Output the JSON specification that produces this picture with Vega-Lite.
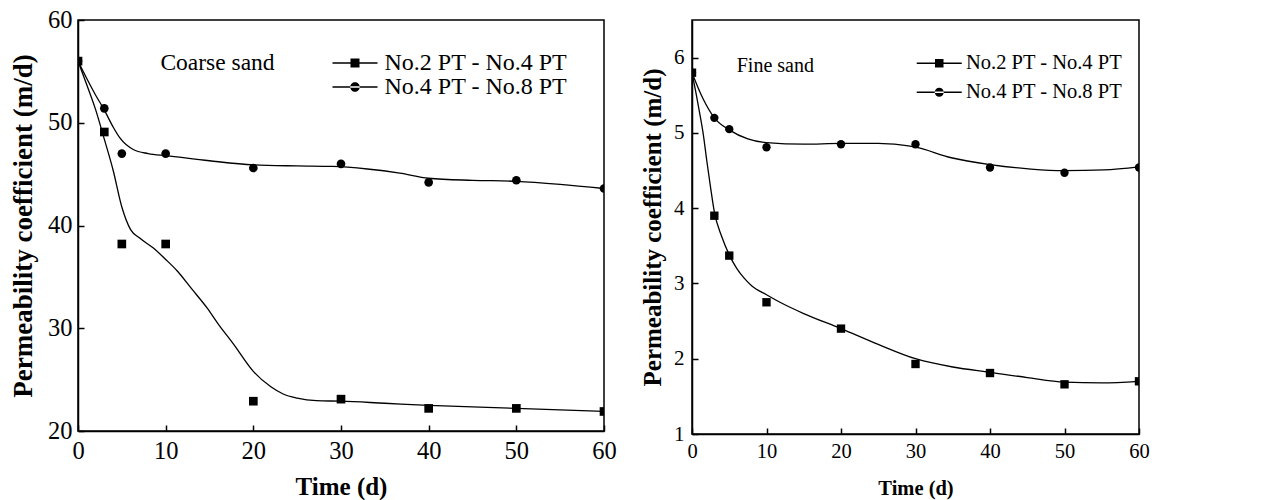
{
  "$schema": "https://vega.github.io/schema/vega-lite/v6.json",
  "background": "white",
  "padding": {"left": 8, "top": 6, "right": 0, "bottom": 0},
  "spacing": 22,
  "config": {
    "font": "Liberation Serif",
    "view": {"stroke": "black", "strokeWidth": 1.5},
    "axis": {
      "grid": false,
      "labelFont": "Liberation Serif",
      "titleFont": "Liberation Serif",
      "titleFontWeight": "bold",
      "labelColor": "black",
      "titleColor": "black",
      "domainColor": "black",
      "domainWidth": 1.5,
      "tickColor": "black",
      "tickWidth": 1.5,
      "tickSize": -6,
      "labelFlush": false,
      "labelOverlap": false
    },
    "legend": {"labelFont": "Liberation Serif", "labelColor": "black", "padding": 0, "labelLimit": 0}
  },
  "datasets": {
    "coarse_obs": [
      {"series": "No.2 PT - No.4 PT", "day": 0, "k": 56.0},
      {"series": "No.2 PT - No.4 PT", "day": 3, "k": 49.1},
      {"series": "No.2 PT - No.4 PT", "day": 5, "k": 38.2},
      {"series": "No.2 PT - No.4 PT", "day": 10, "k": 38.2},
      {"series": "No.2 PT - No.4 PT", "day": 20, "k": 22.9},
      {"series": "No.2 PT - No.4 PT", "day": 30, "k": 23.1},
      {"series": "No.2 PT - No.4 PT", "day": 40, "k": 22.2},
      {"series": "No.2 PT - No.4 PT", "day": 50, "k": 22.2},
      {"series": "No.2 PT - No.4 PT", "day": 60, "k": 21.9},
      {"series": "No.4 PT - No.8 PT", "day": 0, "k": 56.0},
      {"series": "No.4 PT - No.8 PT", "day": 3, "k": 51.4},
      {"series": "No.4 PT - No.8 PT", "day": 5, "k": 47.0},
      {"series": "No.4 PT - No.8 PT", "day": 10, "k": 47.0},
      {"series": "No.4 PT - No.8 PT", "day": 20, "k": 45.6},
      {"series": "No.4 PT - No.8 PT", "day": 30, "k": 46.0},
      {"series": "No.4 PT - No.8 PT", "day": 40, "k": 44.2},
      {"series": "No.4 PT - No.8 PT", "day": 50, "k": 44.4},
      {"series": "No.4 PT - No.8 PT", "day": 60, "k": 43.6}
    ],
    "coarse_fit": [
      {"series": "No.2 PT - No.4 PT", "day": 0, "k": 56.0},
      {"series": "No.2 PT - No.4 PT", "day": 1, "k": 53.7},
      {"series": "No.2 PT - No.4 PT", "day": 2, "k": 51.3},
      {"series": "No.2 PT - No.4 PT", "day": 3, "k": 48.4},
      {"series": "No.2 PT - No.4 PT", "day": 4, "k": 45.4},
      {"series": "No.2 PT - No.4 PT", "day": 5, "k": 41.8},
      {"series": "No.2 PT - No.4 PT", "day": 6, "k": 39.6},
      {"series": "No.2 PT - No.4 PT", "day": 7, "k": 38.8},
      {"series": "No.2 PT - No.4 PT", "day": 8.6, "k": 37.8},
      {"series": "No.2 PT - No.4 PT", "day": 10, "k": 36.7},
      {"series": "No.2 PT - No.4 PT", "day": 11.3, "k": 35.6},
      {"series": "No.2 PT - No.4 PT", "day": 13, "k": 33.8},
      {"series": "No.2 PT - No.4 PT", "day": 14.7, "k": 32.0},
      {"series": "No.2 PT - No.4 PT", "day": 16, "k": 30.4},
      {"series": "No.2 PT - No.4 PT", "day": 17.7, "k": 28.5},
      {"series": "No.2 PT - No.4 PT", "day": 20, "k": 25.8},
      {"series": "No.2 PT - No.4 PT", "day": 22, "k": 24.3},
      {"series": "No.2 PT - No.4 PT", "day": 23.4, "k": 23.6},
      {"series": "No.2 PT - No.4 PT", "day": 25, "k": 23.2},
      {"series": "No.2 PT - No.4 PT", "day": 27.2, "k": 22.95},
      {"series": "No.2 PT - No.4 PT", "day": 30, "k": 22.9},
      {"series": "No.2 PT - No.4 PT", "day": 35, "k": 22.7},
      {"series": "No.2 PT - No.4 PT", "day": 40, "k": 22.5},
      {"series": "No.2 PT - No.4 PT", "day": 50, "k": 22.2},
      {"series": "No.2 PT - No.4 PT", "day": 60, "k": 21.9},
      {"series": "No.4 PT - No.8 PT", "day": 0, "k": 56.0},
      {"series": "No.4 PT - No.8 PT", "day": 1, "k": 54.3},
      {"series": "No.4 PT - No.8 PT", "day": 2, "k": 52.7},
      {"series": "No.4 PT - No.8 PT", "day": 2.9, "k": 51.4},
      {"series": "No.4 PT - No.8 PT", "day": 4, "k": 49.6},
      {"series": "No.4 PT - No.8 PT", "day": 4.8, "k": 48.5},
      {"series": "No.4 PT - No.8 PT", "day": 6.3, "k": 47.4},
      {"series": "No.4 PT - No.8 PT", "day": 8, "k": 47.0},
      {"series": "No.4 PT - No.8 PT", "day": 10.1, "k": 46.8},
      {"series": "No.4 PT - No.8 PT", "day": 15, "k": 46.3},
      {"series": "No.4 PT - No.8 PT", "day": 20, "k": 45.9},
      {"series": "No.4 PT - No.8 PT", "day": 25, "k": 45.8},
      {"series": "No.4 PT - No.8 PT", "day": 29, "k": 45.75},
      {"series": "No.4 PT - No.8 PT", "day": 33, "k": 45.5},
      {"series": "No.4 PT - No.8 PT", "day": 36.7, "k": 45.1},
      {"series": "No.4 PT - No.8 PT", "day": 40, "k": 44.6},
      {"series": "No.4 PT - No.8 PT", "day": 45, "k": 44.4},
      {"series": "No.4 PT - No.8 PT", "day": 50, "k": 44.3},
      {"series": "No.4 PT - No.8 PT", "day": 55, "k": 44.0},
      {"series": "No.4 PT - No.8 PT", "day": 60, "k": 43.6}
    ],
    "fine_obs": [
      {"series": "No.2 PT - No.4 PT", "day": 0, "k": 5.8},
      {"series": "No.2 PT - No.4 PT", "day": 3, "k": 3.9},
      {"series": "No.2 PT - No.4 PT", "day": 5, "k": 3.37},
      {"series": "No.2 PT - No.4 PT", "day": 10, "k": 2.75},
      {"series": "No.2 PT - No.4 PT", "day": 20, "k": 2.4},
      {"series": "No.2 PT - No.4 PT", "day": 30, "k": 1.93},
      {"series": "No.2 PT - No.4 PT", "day": 40, "k": 1.81},
      {"series": "No.2 PT - No.4 PT", "day": 50, "k": 1.66},
      {"series": "No.2 PT - No.4 PT", "day": 60, "k": 1.7},
      {"series": "No.4 PT - No.8 PT", "day": 0, "k": 5.8},
      {"series": "No.4 PT - No.8 PT", "day": 3, "k": 5.2},
      {"series": "No.4 PT - No.8 PT", "day": 5, "k": 5.05},
      {"series": "No.4 PT - No.8 PT", "day": 10, "k": 4.81},
      {"series": "No.4 PT - No.8 PT", "day": 20, "k": 4.85},
      {"series": "No.4 PT - No.8 PT", "day": 30, "k": 4.85},
      {"series": "No.4 PT - No.8 PT", "day": 40, "k": 4.54},
      {"series": "No.4 PT - No.8 PT", "day": 50, "k": 4.47},
      {"series": "No.4 PT - No.8 PT", "day": 60, "k": 4.54}
    ],
    "fine_fit": [
      {"series": "No.2 PT - No.4 PT", "day": 0, "k": 5.8},
      {"series": "No.2 PT - No.4 PT", "day": 0.5, "k": 5.55},
      {"series": "No.2 PT - No.4 PT", "day": 1, "k": 5.28},
      {"series": "No.2 PT - No.4 PT", "day": 1.5, "k": 4.99},
      {"series": "No.2 PT - No.4 PT", "day": 2, "k": 4.62},
      {"series": "No.2 PT - No.4 PT", "day": 2.5, "k": 4.27},
      {"series": "No.2 PT - No.4 PT", "day": 3, "k": 3.95},
      {"series": "No.2 PT - No.4 PT", "day": 4, "k": 3.62},
      {"series": "No.2 PT - No.4 PT", "day": 5, "k": 3.38},
      {"series": "No.2 PT - No.4 PT", "day": 6, "k": 3.2},
      {"series": "No.2 PT - No.4 PT", "day": 7, "k": 3.07},
      {"series": "No.2 PT - No.4 PT", "day": 8, "k": 2.97},
      {"series": "No.2 PT - No.4 PT", "day": 10, "k": 2.85},
      {"series": "No.2 PT - No.4 PT", "day": 12, "k": 2.74},
      {"series": "No.2 PT - No.4 PT", "day": 15, "k": 2.6},
      {"series": "No.2 PT - No.4 PT", "day": 20, "k": 2.4},
      {"series": "No.2 PT - No.4 PT", "day": 25, "k": 2.19},
      {"series": "No.2 PT - No.4 PT", "day": 30, "k": 2.0},
      {"series": "No.2 PT - No.4 PT", "day": 35, "k": 1.89},
      {"series": "No.2 PT - No.4 PT", "day": 40, "k": 1.82},
      {"series": "No.2 PT - No.4 PT", "day": 45, "k": 1.75},
      {"series": "No.2 PT - No.4 PT", "day": 50, "k": 1.69},
      {"series": "No.2 PT - No.4 PT", "day": 55, "k": 1.68},
      {"series": "No.2 PT - No.4 PT", "day": 60, "k": 1.7},
      {"series": "No.4 PT - No.8 PT", "day": 0, "k": 5.8},
      {"series": "No.4 PT - No.8 PT", "day": 1.5, "k": 5.45},
      {"series": "No.4 PT - No.8 PT", "day": 3, "k": 5.2},
      {"series": "No.4 PT - No.8 PT", "day": 5, "k": 5.04},
      {"series": "No.4 PT - No.8 PT", "day": 7.5, "k": 4.92},
      {"series": "No.4 PT - No.8 PT", "day": 10, "k": 4.87},
      {"series": "No.4 PT - No.8 PT", "day": 15, "k": 4.85},
      {"series": "No.4 PT - No.8 PT", "day": 20, "k": 4.86},
      {"series": "No.4 PT - No.8 PT", "day": 25, "k": 4.86},
      {"series": "No.4 PT - No.8 PT", "day": 28, "k": 4.84},
      {"series": "No.4 PT - No.8 PT", "day": 30, "k": 4.81},
      {"series": "No.4 PT - No.8 PT", "day": 34.8, "k": 4.67},
      {"series": "No.4 PT - No.8 PT", "day": 40, "k": 4.58},
      {"series": "No.4 PT - No.8 PT", "day": 45.5, "k": 4.52},
      {"series": "No.4 PT - No.8 PT", "day": 50, "k": 4.5},
      {"series": "No.4 PT - No.8 PT", "day": 55.3, "k": 4.51},
      {"series": "No.4 PT - No.8 PT", "day": 60, "k": 4.55}
    ]
  },
  "hconcat": [
    {
      "width": 526,
      "height": 411,
      "resolve": {"scale": {"shape": "independent"}, "legend": {"shape": "independent"}},
      "layer": [
        {
          "data": {"name": "coarse_fit"},
          "mark": {"type": "line", "interpolate": "monotone", "color": "black", "strokeWidth": 1.3, "clip": true},
          "encoding": {
            "x": {"field": "day", "type": "quantitative", "scale": {"domain": [0, 60], "nice": false},
                  "axis": {"values": [0, 10, 20, 30, 40, 50, 60], "title": "Time (d)", "titleFontSize": 25, "labelFontSize": 24.5, "labelPadding": 14, "titlePadding": 12}},
            "y": {"field": "k", "type": "quantitative", "scale": {"domain": [20, 60], "nice": false, "zero": false},
                  "axis": {"values": [20, 30, 40, 50, 60], "title": "Permeability coefficient (m/d)", "titleFontSize": 27, "labelFontSize": 24.5, "labelPadding": 12, "titlePadding": 10}},
            "detail": {"field": "series"}
          }
        },
        {
          "data": {"name": "coarse_obs"},
          "mark": {"type": "point", "filled": true, "color": "black", "opacity": 1, "size": 75, "clip": true},
          "encoding": {
            "x": {"field": "day", "type": "quantitative"},
            "y": {"field": "k", "type": "quantitative"},
            "shape": {"field": "series", "type": "nominal", "scale": {"domain": ["No.2 PT - No.4 PT", "No.4 PT - No.8 PT"], "range": ["square", "circle"]}, "legend": null}
          }
        },
        {
          "data": {"name": "coarse_obs"},
          "transform": [{"filter": "false"}],
          "mark": {"type": "point", "filled": true, "color": "black", "opacity": 1, "size": 100},
          "encoding": {
            "x": {"field": "day", "type": "quantitative"},
            "y": {"field": "k", "type": "quantitative"},
            "shape": {"field": "series", "type": "nominal",
                      "scale": {"domain": ["No.2 PT - No.4 PT", "No.4 PT - No.8 PT"],
                                "range": ["M-4.5,-0.14H4.5V0.14H-4.5ZM-0.9,-0.9H0.9V0.9H-0.9Z", "M-4.5,-0.14H4.5V0.14H-4.5ZM-0.95,0A0.95,0.95 0 1,0 0.95,0A0.95,0.95 0 1,0 -0.95,0Z"]},
                      "legend": {"title": null, "orient": "none", "legendX": 265, "legendY": 31, "labelFontSize": 24, "labelOffset": 17.5, "symbolSize": 100, "rowPadding": -5, "symbolFillColor": "black", "symbolStrokeWidth": 0, "symbolOpacity": 1}}
          }
        },
        {
          "data": {"values": [{}]},
          "mark": {"type": "text", "text": "Coarse sand", "align": "left", "baseline": "middle", "fontSize": 23.5, "font": "Liberation Serif", "color": "black"},
          "encoding": {"x": {"datum": 9.4}, "y": {"datum": 55.8}}
        }
      ]
    },
    {
      "width": 447,
      "height": 414,
      "resolve": {"scale": {"shape": "independent"}, "legend": {"shape": "independent"}},
      "layer": [
        {
          "data": {"name": "fine_fit"},
          "mark": {"type": "line", "interpolate": "monotone", "color": "black", "strokeWidth": 1.3, "clip": true},
          "encoding": {
            "x": {"field": "day", "type": "quantitative", "scale": {"domain": [0, 60], "nice": false},
                  "axis": {"values": [0, 10, 20, 30, 40, 50, 60], "title": "Time (d)", "titleFontSize": 20.5, "labelFontSize": 20.5, "labelPadding": 13, "titlePadding": 17}},
            "y": {"field": "k", "type": "quantitative", "scale": {"domain": [1, 6.5], "nice": false, "zero": false},
                  "axis": {"values": [1, 2, 3, 4, 5, 6], "format": "d", "title": "Permeability coefficient (m/d)", "titleFontSize": 25, "labelFontSize": 21, "labelPadding": 14, "titlePadding": 8}},
            "detail": {"field": "series"}
          }
        },
        {
          "data": {"name": "fine_obs"},
          "mark": {"type": "point", "filled": true, "color": "black", "opacity": 1, "size": 70, "clip": true},
          "encoding": {
            "x": {"field": "day", "type": "quantitative"},
            "y": {"field": "k", "type": "quantitative"},
            "shape": {"field": "series", "type": "nominal", "scale": {"domain": ["No.2 PT - No.4 PT", "No.4 PT - No.8 PT"], "range": ["square", "circle"]}, "legend": null}
          }
        },
        {
          "data": {"name": "fine_obs"},
          "transform": [{"filter": "false"}],
          "mark": {"type": "point", "filled": true, "color": "black", "opacity": 1, "size": 100},
          "encoding": {
            "x": {"field": "day", "type": "quantitative"},
            "y": {"field": "k", "type": "quantitative"},
            "shape": {"field": "series", "type": "nominal",
                      "scale": {"domain": ["No.2 PT - No.4 PT", "No.4 PT - No.8 PT"],
                                "range": ["M-4.5,-0.14H4.5V0.14H-4.5ZM-0.85,-0.85H0.85V0.85H-0.85Z", "M-4.5,-0.14H4.5V0.14H-4.5ZM-0.9,0A0.9,0.9 0 1,0 0.9,0A0.9,0.9 0 1,0 -0.9,0Z"]},
                      "legend": {"title": null, "orient": "none", "legendX": 237, "legendY": 33, "labelFontSize": 20.5, "labelOffset": 16.5, "symbolSize": 100, "rowPadding": 8, "symbolFillColor": "black", "symbolStrokeWidth": 0, "symbolOpacity": 1}}
          }
        },
        {
          "data": {"values": [{}]},
          "mark": {"type": "text", "text": "Fine sand", "align": "left", "baseline": "middle", "fontSize": 20, "font": "Liberation Serif", "color": "black"},
          "encoding": {"x": {"datum": 6.0}, "y": {"datum": 5.89}}
        }
      ]
    }
  ]
}
